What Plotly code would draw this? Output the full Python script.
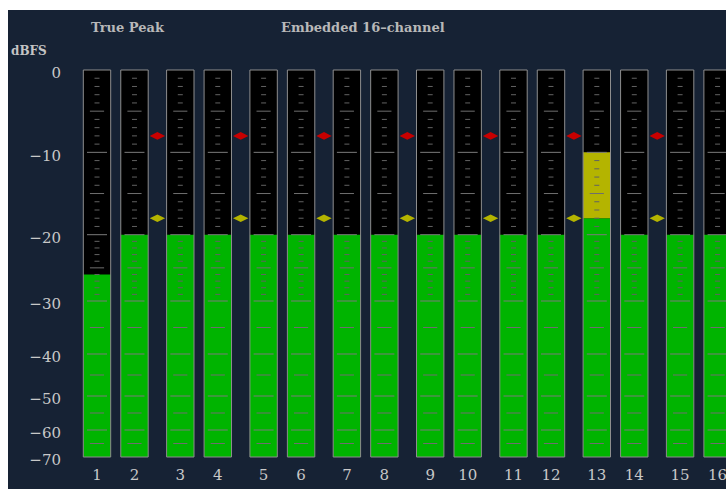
import numpy as np
import plotly.graph_objects as go

# ---- data -------------------------------------------------------------
channels = [str(i) for i in range(1, 17)]
# true-peak level per channel, dBFS
levels = [-26, -20, -20, -20, -20, -20, -20, -20,
          -20, -20, -20, -20, -10, -20, -20, -20]
# alarm thresholds shown between channel pairs
peak_limit = -8      # red marker
warn_limit = -18     # yellow marker
scale_ticks = [0, -10, -20, -30, -40, -50, -60, -70]

# ---- meter scale (compressed toward the bottom) -------------------------
scale_db = [0, 20, 30, 40, 50, 60, 70]
scale_pos = [0, 164.7, 231, 284, 326, 360, 387]


def ypos(db):
    return -float(np.interp(-db, scale_db, scale_pos))


FLOOR = -70
BG = "#162234"
GREEN = "#00b400"
YELLOW = "#b4b400"
RED = "#c80000"
TEXT = "#c8c8c8"
FONT = "DejaVu Serif"

# channel positions: pairs of meters, wider gap between pairs
xs = [2 * (i // 2) + 0.9 * (i % 2) for i in range(len(channels))]
BW = 0.658

fig = go.Figure()

base = ypos(FLOOR)
# black meter wells
fig.add_trace(go.Bar(x=xs, y=[ypos(0) - base] * len(xs), base=base,
                     width=BW, marker=dict(color="black", line_width=0),
                     hoverinfo="skip"))

# green segment (below warning level)
g_top = [min(v, warn_limit) for v in levels]
fig.add_trace(go.Bar(x=xs, y=[ypos(t) - base for t in g_top], base=base,
                     width=BW, marker=dict(color=GREEN, line_width=0),
                     hoverinfo="skip"))

# yellow segment (warning zone) and red segment (over the peak limit)
y_x, y_b, y_h = [], [], []
r_x, r_b, r_h = [], [], []
for x, v in zip(xs, levels):
    if v > warn_limit:
        top = min(v, peak_limit)
        y_x.append(x)
        y_b.append(ypos(warn_limit))
        y_h.append(ypos(top) - ypos(warn_limit))
    if v > peak_limit:
        r_x.append(x)
        r_b.append(ypos(peak_limit))
        r_h.append(ypos(v) - ypos(peak_limit))
fig.add_trace(go.Bar(x=y_x, y=y_h, base=y_b, width=BW,
                     marker=dict(color=YELLOW, line_width=0),
                     hoverinfo="skip"))
if r_x:
    fig.add_trace(go.Bar(x=r_x, y=r_h, base=r_b, width=BW,
                         marker=dict(color=RED, line_width=0),
                         hoverinfo="skip"))

# outline around each meter
fig.add_trace(go.Bar(x=xs, y=[ypos(0) - base] * len(xs), base=base,
                     width=BW,
                     marker=dict(color="rgba(0,0,0,0)",
                                 line=dict(color="#8e8e8e", width=1)),
                     hoverinfo="skip"))

# graticule inside each meter
minor = [d for d in range(-1, -30, -1) if d % 5 != 0]
medium = [-5, -15, -25, -35, -45, -55, -65]
major = [-10, -20, -30, -40, -50, -60]


def tick_trace(dbs, half, color, width):
    tx, ty = [], []
    for x in xs:
        for d in dbs:
            tx += [x - half, x + half, None]
            ty += [ypos(d), ypos(d), None]
    return go.Scatter(x=tx, y=ty, mode="lines",
                      line=dict(color=color, width=width),
                      hoverinfo="skip", showlegend=False)


fig.add_trace(tick_trace(minor, 0.06, "#626262", 1))
fig.add_trace(tick_trace(medium, 0.17, "#6e6e6e", 1))
fig.add_trace(tick_trace(major, 0.24, "#7a7a7a", 1))

# threshold markers between channel pairs
mx = [(xs[i] + xs[i + 1]) / 2 for i in range(1, len(xs) - 1, 2)]
fig.add_trace(go.Scatter(x=mx, y=[ypos(peak_limit)] * len(mx), mode="markers",
                         marker=dict(symbol="diamond-wide", size=11, color=RED,
                                     line_width=0),
                         hoverinfo="skip", showlegend=False))
fig.add_trace(go.Scatter(x=mx, y=[ypos(warn_limit)] * len(mx), mode="markers",
                         marker=dict(symbol="diamond-wide", size=11,
                                     color=YELLOW, line_width=0),
                         hoverinfo="skip", showlegend=False))

L, T, B = 70, 10, 29
W, H = 726, 489
PW, PH = W - L, H - T - B
UNIT = 41.65          # pixels per x unit
X0_PX = 97            # pixel column of channel 1


def px_x(p):
    return (p - L) / PW


def px_y(p):
    return (H - B - p) / PH


def label(text, x, y, size, color):
    return dict(text=text, x=px_x(x), y=px_y(y), xref="paper", yref="paper",
                xanchor="center", yanchor="middle", showarrow=False,
                font=dict(size=size, color=color))


fig.update_layout(
    width=W, height=H,
    margin=dict(l=L, r=0, t=T, b=B, pad=0),
    paper_bgcolor=BG, plot_bgcolor=BG,
    barmode="overlay", showlegend=False,
    xaxis=dict(range=[(L - X0_PX) / UNIT, (W - X0_PX) / UNIT],
               tickvals=xs, ticktext=channels, showgrid=False,
               zeroline=False, showline=False, ticks="",
               ticklabelstandoff=4, ticklabeloverflow="allow",
               tickfont=dict(family=FONT, size=15, color=TEXT)),
    yaxis=dict(range=[-(H - B - 70), 70 - T],
               tickvals=[ypos(v) for v in scale_ticks],
               ticktext=[str(v).replace("-", "\u2212") for v in scale_ticks],
               showgrid=False, zeroline=False, showline=False, ticks="",
               ticklabelstandoff=8, ticklabelshift=3,
               tickfont=dict(family=FONT, size=15, color=TEXT)),
    font=dict(family=FONT, color=TEXT),
    annotations=[
        label("<b>True Peak</b>", 128, 27, 13, "#b8b8b8"),
        label("<b>Embedded 16\u2013channel</b>", 363, 27, 13, "#b8b8b8"),
        label("<b>dBFS</b>", 29, 51, 12, "#c4c4c4"),
    ],
    shapes=[
        dict(type="rect", xref="paper", yref="paper",
             x0=px_x(0), x1=px_x(W), y0=px_y(10), y1=px_y(0),
             fillcolor="white", line_width=0, layer="above"),
        dict(type="rect", xref="paper", yref="paper",
             x0=px_x(0), x1=px_x(8), y0=px_y(H), y1=px_y(0),
             fillcolor="white", line_width=0, layer="above"),
    ],
)

fig.write_html("out.html")
